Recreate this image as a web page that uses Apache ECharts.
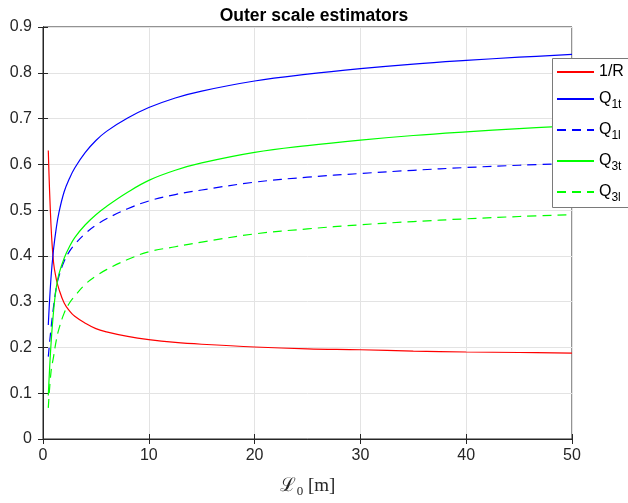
<!DOCTYPE html>
<html>
<head>
<meta charset="utf-8">
<script src="https://cdn.jsdelivr.net/npm/echarts@6/dist/echarts.min.js"></script>
<style>
  html, body { margin: 0; padding: 0; background: #fff; }
  #chart { width: 628px; height: 503px; }
</style>
</head>
<body>
<div id="chart"></div>
<script>
// ---- data ----
var xValues = [0.5, 0.75, 1, 1.25, 1.5, 2, 2.5, 3, 4, 5, 6, 8, 10, 12.5, 15, 20, 25, 30, 35, 40, 45, 50];
var invR = [0.63, 0.47, 0.385, 0.35, 0.328, 0.297, 0.280, 0.268, 0.253, 0.241, 0.234, 0.224, 0.217, 0.211, 0.207, 0.201, 0.197, 0.195, 0.192, 0.190, 0.189, 0.1875];
var q1t = [0.249, 0.35, 0.415, 0.46, 0.494, 0.54, 0.569, 0.592, 0.626, 0.652, 0.672, 0.701, 0.724, 0.745, 0.760, 0.782, 0.797, 0.809, 0.819, 0.827, 0.834, 0.840];
var q1l = [0.18, 0.24, 0.29, 0.33, 0.355, 0.388, 0.41, 0.425, 0.449, 0.467, 0.481, 0.503, 0.520, 0.534, 0.544, 0.561, 0.572, 0.580, 0.587, 0.593, 0.598, 0.602];
var q3t = [0.095, 0.205, 0.28, 0.33, 0.36, 0.395, 0.42, 0.44, 0.468, 0.49, 0.508, 0.539, 0.565, 0.587, 0.603, 0.626, 0.641, 0.653, 0.663, 0.671, 0.678, 0.684];
var q3l = [0.068, 0.145, 0.18, 0.215, 0.24, 0.275, 0.297, 0.312, 0.338, 0.356, 0.370, 0.392, 0.409, 0.42, 0.43, 0.448, 0.459, 0.468, 0.475, 0.481, 0.486, 0.490];
var xTicks = [0, 10, 20, 30, 40, 50];
var yTicks = [0, 0.1, 0.2, 0.3, 0.4, 0.5, 0.6, 0.7, 0.8, 0.9];
var seriesNames = ['1/R', 'Q1t', 'Q1l', 'Q3t', 'Q3l'];
var legendLabels = {
  '1/R': '{m|1/R}',
  'Q1t': '{m|Q}{s|1t}',
  'Q1l': '{m|Q}{s|1l}',
  'Q3t': '{m|Q}{s|3t}',
  'Q3l': '{m|Q}{s|3l}'
};

function pairs(ys) { return xValues.map(function (x, i) { return [x, ys[i]]; }); }

var chart = echarts.init(document.getElementById('chart'), null, { renderer: 'canvas' });
var axisColor = '#262626';
var font = "'Liberation Sans', Arial, Helvetica, sans-serif";

function mkSeries(name, ys, color, dashed) {
  return {
    name: name, type: 'line', data: pairs(ys), symbol: 'none',
    smooth: 0.4,
    lineStyle: { color: color, width: 1.2, type: dashed ? [9, 6] : 'solid' },
    itemStyle: { color: color },
    emphasis: { disabled: true },
    z: 3
  };
}

var option = {
  animation: false,
  backgroundColor: '#ffffff',
  title: {
    text: 'Outer scale estimators',
    left: 'center', top: 2,
    textStyle: { fontFamily: font, fontWeight: 'bold', fontSize: 17.5, color: '#000' }
  },
  grid: {
    left: 43, top: 27, right: 56, bottom: 62,
    show: true, borderColor: axisColor, borderWidth: 1, backgroundColor: '#fff'
  },
  // legend box: extends beyond the right edge of the picture, as in the reference
  graphic: [{
    type: 'rect', left: 552, top: 58, z: 8, silent: true,
    shape: { width: 120, height: 149 },
    style: { fill: '#ffffff', stroke: '#7a7a7a', lineWidth: 1 }
  }],
  legend: {
    orient: 'vertical', left: 552, top: 58,
    data: seriesNames,
    padding: [6, 10, 5, 4],
    itemWidth: 37, itemHeight: 10, itemGap: 11,
    itemStyle: { opacity: 0 },
    formatter: function (n) { return legendLabels[n]; },
    textStyle: {
      color: '#000',
      rich: {
        m: { fontFamily: font, fontSize: 16, color: '#000' },
        s: { fontFamily: font, fontSize: 12, color: '#000', verticalAlign: 'bottom', padding: [12, 0, 0, 0] }
      }
    },
    selectedMode: false, z: 10
  },
  xAxis: [{
    type: 'value', min: 0, max: 50, interval: 10, position: 'bottom',
    name: '{L|ℒ}{s|0}{m| [m]}', nameLocation: 'middle', nameGap: 36,
    nameTextStyle: {
      rich: {
        L: { fontFamily: "'DejaVu Serif', 'Liberation Serif', serif", fontSize: 19, color: '#262626' },
        s: { fontFamily: "'Liberation Serif', serif", fontSize: 13, color: '#262626', padding: [10, 0, 0, 1] },
        m: { fontFamily: "'Liberation Serif', serif", fontSize: 19, color: '#262626' }
      }
    },
    axisLine: { show: true, lineStyle: { color: axisColor } },
    axisTick: { show: true, inside: true, length: 5, lineStyle: { color: axisColor } },
    axisLabel: { color: axisColor, fontFamily: font, fontSize: 16, margin: 9,
      formatter: function (v) { return xTicks.indexOf(v) >= 0 ? String(v) : ''; } },
    splitLine: { show: true, lineStyle: { color: '#e3e3e3', width: 1 } }
  }, {
    type: 'value', min: 0, max: 50, interval: 10, position: 'top',
    axisLine: { show: true, lineStyle: { color: axisColor } },
    axisTick: { show: true, inside: true, length: 5, lineStyle: { color: axisColor } },
    axisLabel: { show: false }, splitLine: { show: false }
  }],
  yAxis: [{
    type: 'value', min: 0, max: 0.9, interval: 0.1, position: 'left',
    axisLine: { show: true, lineStyle: { color: axisColor } },
    axisTick: { show: true, inside: true, length: 5, lineStyle: { color: axisColor } },
    axisLabel: { color: axisColor, fontFamily: font, fontSize: 16, margin: 11,
      formatter: function (v) {
        var r = Math.round(v * 10) / 10;
        return yTicks.indexOf(r) >= 0 ? String(r) : '';
      } },
    splitLine: { show: true, lineStyle: { color: '#e3e3e3', width: 1 } }
  }, {
    type: 'value', min: 0, max: 0.9, interval: 0.1, position: 'right',
    axisLine: { show: true, lineStyle: { color: axisColor } },
    axisTick: { show: true, inside: true, length: 5, lineStyle: { color: axisColor } },
    axisLabel: { show: false }, splitLine: { show: false }
  }],
  series: [
    mkSeries('1/R', invR, '#ff0000', false),
    mkSeries('Q1t', q1t, '#0000ff', false),
    mkSeries('Q1l', q1l, '#0000ff', true),
    mkSeries('Q3t', q3t, '#00ff00', false),
    mkSeries('Q3l', q3l, '#00ff00', true)
  ]
};
chart.setOption(option);
</script>
</body>
</html>
